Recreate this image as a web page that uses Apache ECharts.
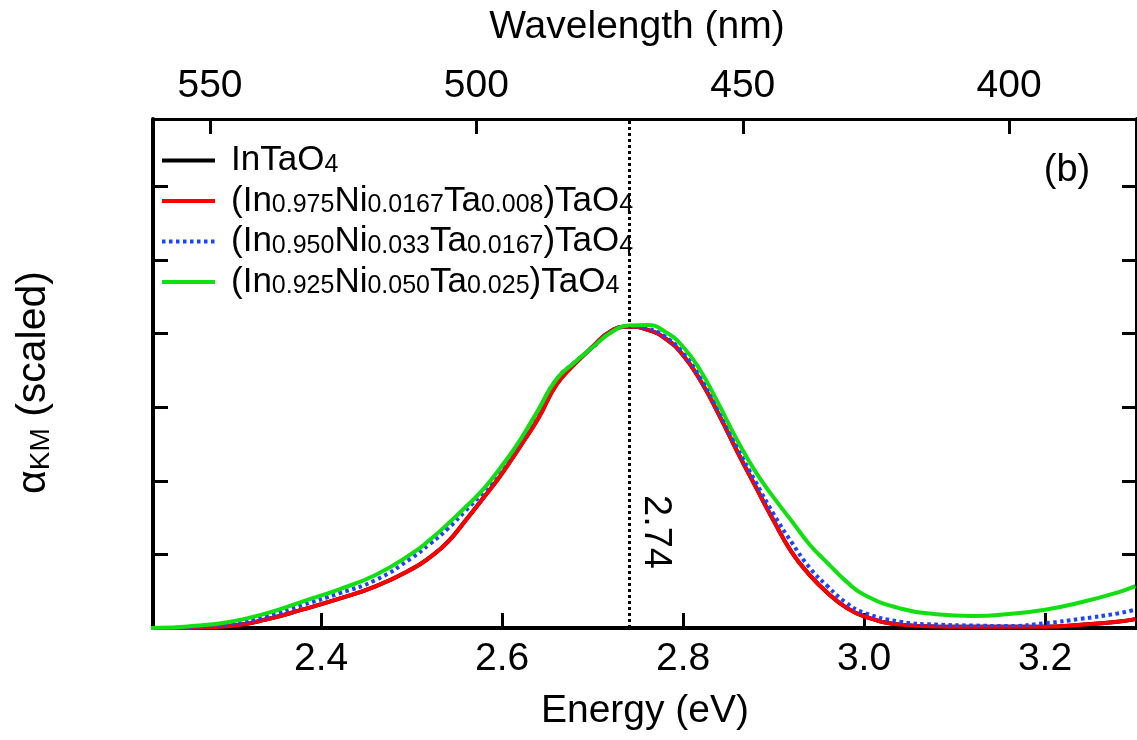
<!DOCTYPE html>
<html><head><meta charset="utf-8">
<script src="https://cdn.jsdelivr.net/npm/echarts@6/dist/echarts.min.js"></script>
<style>html,body{margin:0;padding:0;background:#fff}#c{width:1137px;height:740px}</style>
</head><body><div id="c"></div><script>
// ---- data ----
const energy = [2.20,2.22,2.26,2.30,2.34,2.38,2.42,2.46,2.50,2.52,2.54,2.56,2.58,2.60,2.62,2.64,2.66,2.68,2.70,2.72,2.74,2.76,2.78,2.80,2.82,2.84,2.86,2.88,2.90,2.92,2.94,2.96,2.98,3.00,3.04,3.08,3.12,3.16,3.20,3.24,3.28,3.30];
const inTaO4 = [0,0,0.004,0.027,0.118,0.253,0.398,0.565,0.80,0.96,1.17,1.467,1.779,2.102,2.469,2.851,3.306,3.584,3.821,4.033,4.094,4.054,3.937,3.705,3.345,2.890,2.395,1.924,1.461,1.030,0.719,0.473,0.280,0.160,0.046,0.020,0.018,0.018,0.018,0.045,0.086,0.121];
const ni0167 = [0,0,0.004,0.027,0.118,0.253,0.398,0.565,0.80,0.96,1.17,1.467,1.779,2.102,2.469,2.851,3.306,3.584,3.821,4.033,4.094,4.054,3.937,3.705,3.345,2.890,2.395,1.924,1.461,1.030,0.719,0.473,0.280,0.160,0.046,0.020,0.018,0.018,0.018,0.045,0.086,0.121];
const ni033 = [0,0,0.016,0.054,0.156,0.313,0.471,0.650,0.951,1.14,1.35,1.60,1.861,2.19,2.541,2.955,3.376,3.607,3.81,4.02,4.10,4.069,3.961,3.736,3.383,2.935,2.446,1.990,1.549,1.163,0.818,0.563,0.346,0.207,0.086,0.046,0.034,0.027,0.065,0.125,0.197,0.249];
const ni050 = [0,0.002,0.030,0.086,0.202,0.363,0.526,0.720,1.010,1.197,1.415,1.647,1.897,2.208,2.558,2.966,3.380,3.609,3.814,4.012,4.109,4.117,4.027,3.821,3.481,3.026,2.548,2.124,1.774,1.455,1.132,0.879,0.637,0.451,0.265,0.188,0.164,0.189,0.247,0.349,0.481,0.568];
const seriesNames = ['InTaO_4','(In_0.975Ni_0.0167Ta_0.008)TaO_4','(In_0.950Ni_0.033Ta_0.0167)TaO_4','(In_0.925Ni_0.050Ta_0.025)TaO_4'];
const energyTicks = [2.4,2.6,2.8,3.0,3.2];
const wavelengthTicks = [400,450,500,550];
const energyRange = [2.2141,3.3017];
const wavelengthRange = [376.0,560.7];
const yRange = [0,6.916];
const VLINE = 2.743;
const VLINE_LABEL = '2.74';
const PANEL_LABEL = '(b)';

const FONT = '"Liberation Sans", Arial, Helvetica, sans-serif';
const toRich = s => s.replace(/_([0-9.]+)/g, (m, d) => '{s|' + d + '}');
const seriesData = [inTaO4, ni0167, ni033, ni050];
const colors = ['#000000','#ff0000','#1a44ff','#10e010'];
const dash = ['solid','solid',[3.5,3.5],'solid'];

const chart = echarts.init(document.getElementById('c'), null, {renderer:'canvas'});
const series = seriesData.map((vals, i) => ({
  name: seriesNames[i], type: 'line', symbol: 'none', smooth: 0.5,
  xAxisIndex: 0, yAxisIndex: 0, z: 2 + i,
  lineStyle: {color: colors[i], width: 4, type: dash[i]},
  itemStyle: {color: colors[i]},
  data: energy.map((e, k) => [e, vals[k]]),
  markLine: i === 0 ? {symbol:'none', silent:true, animation:false, label:{show:false},
    lineStyle:{color:'#000', width:3, type:[3,3]}, data:[{xAxis: VLINE}]} : undefined
}));

const tickCommon = {show:true, inside:true, length:15, lineStyle:{color:'#000', width:3}};
chart.setOption({
  animation: false,
  backgroundColor: '#fff',
  textStyle: {fontFamily: FONT},
  grid: {left:153, top:119, right:-2, bottom:112, containLabel:false},
  xAxis: [
    {type:'value', position:'bottom', min:energyRange[0], max:energyRange[1],
     name:'Energy (eV)', nameLocation:'middle', nameGap:64,
     nameTextStyle:{fontSize:39, color:'#000', fontFamily:FONT},
     axisLine:{show:true, onZero:false, lineStyle:{color:'#000', width:4}},
     axisTick:Object.assign({customValues: energyTicks}, tickCommon),
     axisLabel:{customValues: energyTicks, fontSize:39, color:'#000', margin:12, fontFamily:FONT,
       formatter: v => Number(v).toFixed(1)},
     splitLine:{show:false}},
    {type:'value', position:'top', inverse:true, min:wavelengthRange[0], max:wavelengthRange[1],
     name:'Wavelength (nm)', nameLocation:'middle', nameGap:72,
     nameTextStyle:{fontSize:39, color:'#000', fontFamily:FONT, padding:[0,16,0,0]},
     axisLine:{show:true, onZero:false, lineStyle:{color:'#000', width:3}},
     axisTick:Object.assign({customValues: wavelengthTicks}, tickCommon),
     axisLabel:{customValues: wavelengthTicks, fontSize:39, color:'#000', margin:13, fontFamily:FONT,
       formatter: v => String(Math.round(v))},
     splitLine:{show:false}}
  ],
  yAxis: [
    {type:'value', position:'left', min:yRange[0], max:yRange[1], interval:1,
     name:'{n|α}{s|KM}{n| (scaled)}', nameLocation:'middle', nameGap:98, nameRotate:90,
     nameTextStyle:{color:'#000', fontFamily:FONT, padding:[0,18,0,0], rich:{
       n:{fontSize:41, lineHeight:42, fontFamily:FONT, color:'#000'},
       s:{fontSize:28, lineHeight:18, verticalAlign:'bottom', fontFamily:FONT, color:'#000'}}},
     axisLine:{show:true, onZero:false, lineStyle:{color:'#000', width:4}},
     axisTick:tickCommon, axisLabel:{show:false}, splitLine:{show:false}},
    {type:'value', position:'right', min:yRange[0], max:yRange[1], interval:1,
     axisLine:{show:true, onZero:false, lineStyle:{color:'#000', width:4}},
     axisTick:tickCommon, axisLabel:{show:false}, splitLine:{show:false}}
  ],
  legend: {
    show:true, orient:'vertical', left:160, top:143, padding:0, itemGap:5.5,
    itemWidth:53, itemHeight:14, selectedMode:false,
    itemStyle:{opacity:0},
    lineStyle:{width:4},
    data: seriesNames,
    formatter: name => toRich(name),
    textStyle:{fontSize:35, lineHeight:34, color:'#000', fontFamily:FONT, padding:[0,0,0,11],
      rich:{s:{fontSize:25, lineHeight:14, verticalAlign:'bottom', fontFamily:FONT, color:'#000'}}}
  },
  series: series
});

const vx = chart.convertToPixel({xAxisIndex:0}, VLINE);
chart.setOption({
  graphic: [
    {type:'text', x: vx + 24, y: 532, rotation: -Math.PI/2, silent:true,
     style:{text: VLINE_LABEL, fontSize:38, fontFamily:FONT, fill:'#000', align:'center', verticalAlign:'middle'}},
    {type:'text', x: 1067, y: 171, silent:true,
     style:{text: PANEL_LABEL, fontSize:38, fontFamily:FONT, fill:'#000', align:'center', verticalAlign:'middle'}}
  ]
});
</script></body></html>
